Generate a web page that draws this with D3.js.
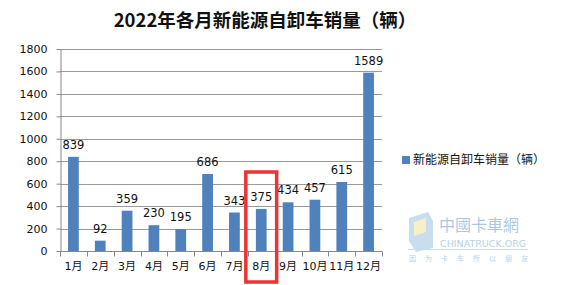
<!DOCTYPE html>
<html>
<head>
<meta charset="utf-8">
<script src="https://cdn.jsdelivr.net/npm/d3@7"></script>
<style>
  body { margin: 0; background: #fff; }
  text { font-family: "DejaVu Sans", "Noto Sans CJK SC", sans-serif; }
</style>
</head>
<body>
<script>
// monthly sales, new-energy dump trucks 2022
var months = ["1月", "2月", "3月", "4月", "5月", "6月", "7月", "8月", "9月", "10月", "11月", "12月"];
var sales = [839, 92, 359, 230, 195, 686, 343, 375, 434, 457, 615, 1589];
var yTicks = [0, 200, 400, 600, 800, 1000, 1200, 1400, 1600, 1800];
var seriesName = "新能源自卸车销量（辆）";
var highlight = "8月";

var width = 564, height = 285;
var svg = d3.select("body").append("svg").attr("width", width).attr("height", height);

var plotLeft = 60, plotRight = 382, plotTop = 49, plotBottom = 251;

var x = d3.scaleBand().domain(months).range([plotLeft, plotRight]).paddingInner(0.6).paddingOuter(0.3);
var band = d3.scaleBand().domain(months).range([plotLeft, plotRight]);
var y = d3.scaleLinear().domain([0, 1800]).range([plotBottom, plotTop]);

// title
svg.append("text")
  .attr("x", 265).attr("y", 27)
  .attr("text-anchor", "middle")
  .style("font-family", "'Noto Sans CJK SC', sans-serif")
  .style("font-size", "18.5px").style("font-weight", "bold")
  .attr("fill", "#111")
  .text("2022年各月新能源自卸车销量（辆）");

// gridlines
svg.append("g").selectAll("line").data(yTicks.slice(1)).enter().append("line")
  .attr("x1", plotLeft).attr("x2", plotRight)
  .attr("y1", function (d) { return Math.round(y(d)) + 0.5; })
  .attr("y2", function (d) { return Math.round(y(d)) + 0.5; })
  .attr("stroke", "#9a9a9a");

// y axis
var yAxis = svg.append("g").attr("transform", "translate(" + (plotLeft + 0.5) + ",0)")
  .call(d3.axisLeft(y).tickValues(yTicks).tickFormat(d3.format("d"))
    .tickSize(4).tickSizeOuter(0).tickPadding(9));
yAxis.select(".domain").attr("stroke", "#888");
yAxis.selectAll(".tick line").attr("stroke", "#888");
yAxis.selectAll("text").style("font-size", "11px").attr("fill", "#111");

// x axis, ticks between categories
var xg = svg.append("g").attr("transform", "translate(0," + (plotBottom + 0.5) + ")");
xg.append("line").attr("x1", plotLeft).attr("x2", plotRight).attr("stroke", "#888");
xg.selectAll("line.tk").data(months.concat(["end"])).enter().append("line")
  .attr("class", "tk")
  .attr("x1", function (d, i) { return Math.round(i < months.length ? band(d) : plotRight) + 0.5; })
  .attr("x2", function (d, i) { return Math.round(i < months.length ? band(d) : plotRight) + 0.5; })
  .attr("y1", 0).attr("y2", 5)
  .attr("stroke", "#888");
xg.selectAll("text").data(months).enter().append("text")
  .attr("x", function (d) { return band(d) + band.bandwidth() / 2; })
  .attr("y", 18)
  .attr("text-anchor", "middle")
  .style("font-size", "11px").attr("fill", "#111")
  .text(function (d) { return d; });

// bars
svg.append("g").selectAll("rect").data(sales).enter().append("rect")
  .attr("x", function (d, i) { return x(months[i]); })
  .attr("y", function (d) { return y(d); })
  .attr("width", x.bandwidth())
  .attr("height", function (d) { return plotBottom - y(d); })
  .attr("fill", "#4f81bd");

// value labels
svg.append("g").selectAll("text").data(sales).enter().append("text")
  .attr("x", function (d, i) { return x(months[i]) + x.bandwidth() / 2; })
  .attr("y", function (d) { return y(d) - 8; })
  .attr("text-anchor", "middle")
  .style("font-size", "11.5px").attr("fill", "#111")
  .text(function (d) { return d; });

// red highlight box around August
svg.append("rect")
  .attr("x", band(highlight) - 2).attr("y", 172)
  .attr("width", band.bandwidth() + 4).attr("height", 110)
  .attr("fill", "none").attr("stroke", "#ee3333").attr("stroke-width", 3.5);

// legend
svg.append("rect").attr("x", 402).attr("y", 156).attr("width", 8).attr("height", 8).attr("fill", "#4f81bd");
svg.append("text").attr("x", 413).attr("y", 164)
  .style("font-family", "'Noto Sans CJK SC', sans-serif")
  .style("font-size", "12px").attr("fill", "#111")
  .text(seriesName);

// faint watermark
var wm = svg.append("g").attr("opacity", 0.55);
wm.append("path").attr("d", "M409,218 L428,212 L433,221 L433,248 L416,252 L409,241 Z").attr("fill", "#9cc3df");
wm.append("path").attr("d", "M414,222 L426,218 L426,232 L414,236 Z").attr("fill", "#f3e29a");
wm.append("text").attr("x", 439).attr("y", 231)
  .style("font-family", "'Noto Sans CJK SC', sans-serif").style("font-size", "16px")
  .attr("fill", "#6a9cc8").text("中國卡車網");
wm.append("text").attr("x", 440).attr("y", 246.5)
  .style("font-size", "9.5px").attr("fill", "#7aaad0").text("CHINATRUCK.ORG");
wm.append("line").attr("x1", 408).attr("x2", 528).attr("y1", 249.5).attr("y2", 249.5).attr("stroke", "#9cc3df");
wm.append("text").attr("x", 409).attr("y", 261)
  .style("font-family", "'Noto Sans CJK SC', sans-serif").style("font-size", "7px")
  .attr("fill", "#7aaad0").attr("letter-spacing", "9px").text("因为卡车所以朋友");
</script>
</body>
</html>
